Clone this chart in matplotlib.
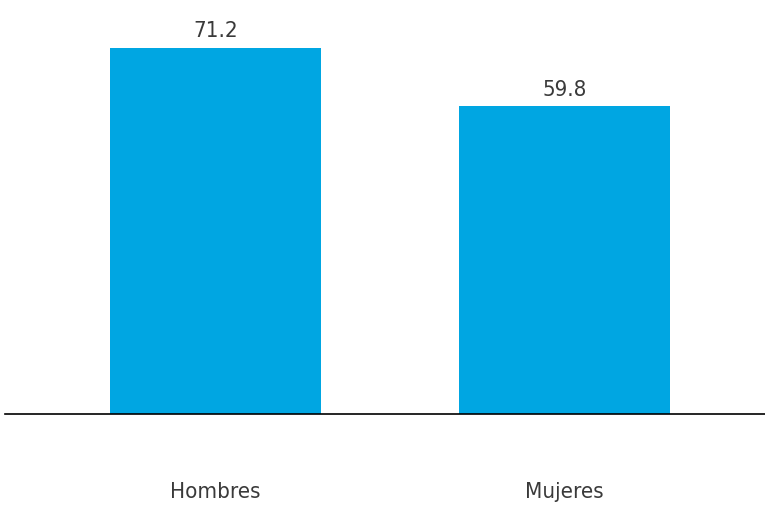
import matplotlib.pyplot as plt

categories = ["Hombres", "Mujeres"]
values = [71.2, 59.8]

plt.rcParams["font.family"] = ["DejaVu Sans"]
plt.rcParams["font.stretch"] = "condensed"

fig = plt.figure(figsize=(7.65, 5.05), dpi=100)
ax = fig.add_axes([5 / 765, 91 / 505, 760 / 765, 414 / 505])

x = range(len(categories))
bars = ax.bar(x, values, width=0.605, color="#00A6E2")

for b, v in zip(bars, values):
    ax.text(b.get_x() + b.get_width() / 2, v + 1.3, f"{v:.1f}",
            ha="center", va="bottom", fontsize=16, color="#3a3a3a")

ax.set_xlim(-0.603, 1.5745)
ax.set_ylim(0, 80.5)
ax.set_xticks(list(x))
ax.set_xticklabels(categories, fontsize=16, color="#3a3a3a")
ax.tick_params(axis="x", length=0, pad=49)
ax.set_yticks([])
for s in ["top", "right", "left"]:
    ax.spines[s].set_visible(False)
ax.spines["bottom"].set_linewidth(1.2)
ax.spines["bottom"].set_color("black")

fig.savefig("out.png", dpi=100)
